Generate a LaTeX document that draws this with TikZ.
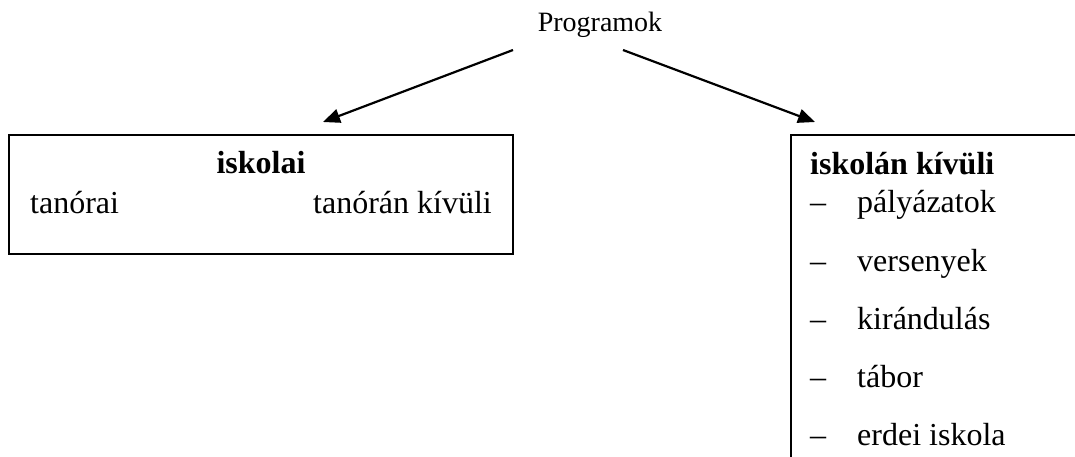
\documentclass[tikz,border=0pt]{standalone}
\usepackage{fontspec}
\setmainfont{Liberation Serif}
\usetikzlibrary{arrows.meta}
\begin{document}
\begin{tikzpicture}[x=1pt,y=-1pt,
  txt/.style={inner sep=0pt,font=\fontsize{32}{38}\selectfont},
  boxline/.style={line width=1.5pt},
  arr/.style={line width=2.2pt,-{Triangle[length=17pt,width=14pt]}}]
\useasboundingbox (0,0) rectangle (1075,457);
\clip (0,0) rectangle (1075,457);
% title
\node[txt,anchor=base,font=\fontsize{28}{34}\selectfont] (prog) at (600,32) {Programok};
% left box
\draw[boxline] (9,135) rectangle (513,254);
\node[txt,anchor=base,font=\fontsize{32}{38}\selectfont\bfseries] (isk) at (261,174) {iskolai};
\node[txt,anchor=base west] (tan) at (30,213) {tanórai};
\node[txt,anchor=base east] (tank) at (492,213) {tanórán kívüli};
% right box
\draw[boxline] (1090,135) -- (791,135) -- (791,470);
\node[txt,anchor=base west,font=\fontsize{32}{38}\selectfont\bfseries] (kiv) at (810,175) {iskolán kívüli};
\foreach \n/\t/\y in {d1/pályázatok/212, d2/versenyek/271, d3/kirándulás/329, d4/tábor/387, d5/erdei iskola/445}{
  \node[txt,anchor=base west] (\n) at (810,\y) {–};
  \node[txt,anchor=base west] (\n t) at (857,\y) {\t};
}
% arrows
\coordinate (s1) at (513,50);
\coordinate (e1) at (323,122);
\coordinate (s2) at (623,50);
\coordinate (e2) at (815,122);
\draw[arr] (s1) -- (e1);
\draw[arr] (s2) -- (e2);
\end{tikzpicture}
\end{document}
